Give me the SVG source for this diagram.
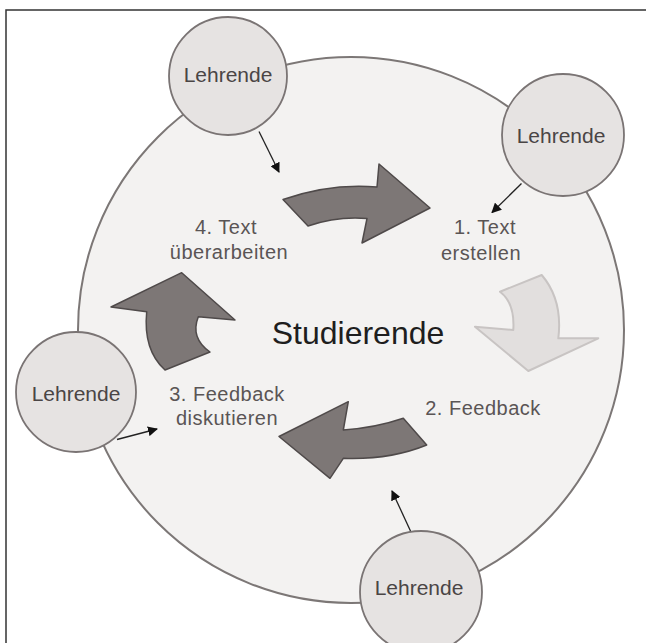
<svg xmlns="http://www.w3.org/2000/svg" width="646" height="643" viewBox="0 0 646 643">
<defs>
<marker id="ah" viewBox="0 0 10 10" refX="9" refY="5" markerWidth="10" markerHeight="10" markerUnits="userSpaceOnUse" orient="auto">
<path d="M0,0 L10,5 L0,10 Z" fill="#111"/>
</marker>
<style>
.frame{stroke:#333;stroke-width:1.5;fill:none}
.big{fill:#f3f2f1;stroke:#7c7776;stroke-width:2}
.dark{fill:#7d7776;stroke:#4f4a4a;stroke-width:1.5;stroke-linejoin:round}
.light{fill:#e2dfde;stroke:#c8c4c3;stroke-width:2;stroke-linejoin:round}
.node{fill:#e6e3e2;stroke:#7a7474;stroke-width:1.8}
.lt{font-family:"Liberation Sans",Arial,sans-serif;font-size:21px;fill:#4a4545;text-anchor:middle}
.st{font-family:"Liberation Sans",Arial,sans-serif;font-size:20px;fill:#5a5555;text-anchor:middle;letter-spacing:0.5px}
.ct{font-family:"Liberation Sans",Arial,sans-serif;font-size:32px;fill:#1e1e1e;text-anchor:middle}
.conn{stroke:#222;stroke-width:1.3;fill:none;marker-end:url(#ah)}
</style>
</defs>
<rect width="646" height="643" fill="#fff"/>
<path class="frame" d="M6,643 L6,10 L646,10"/>
<g id="studierende">
<circle class="big" cx="351" cy="330" r="273"/>
<text class="ct" x="358" y="344">Studierende</text>
</g>
<g id="cycle-arrows">
<path class="dark" d="M283,199.5 Q330,183 377,187 L379,164 L430,208 L362,243 L367,218.5 Q337,216 308,226 Z"/>
<path class="light" d="M500,291.7 L541.7,275 Q563,300 558.3,338.3 L598.3,338.3 L528.3,371 L475,326.7 L513.3,330 Q515,303 500,291.7 Z"/>
<path class="dark" d="M403.3,418.3 L426.7,445 Q390,460 343.3,458.3 L330,478.3 L279,436.5 L348.3,401.7 L343.3,430 Q375,428 403.3,418.3 Z"/>
<path class="dark" d="M165,370 L210,352 Q190,338 198.3,316.7 L235,320 L181.7,272.7 L111,307 L146.7,311.7 Q143,350 165,370 Z"/>
</g>
<g id="step1"><text class="st" x="485" y="234">1. Text</text><text class="st" x="481" y="260">erstellen</text></g>
<g id="step2"><text class="st" x="483" y="415">2. Feedback</text></g>
<g id="step3"><text class="st" x="227" y="401">3. Feedback</text><text class="st" x="227" y="425">diskutieren</text></g>
<g id="step4"><text class="st" x="226" y="234">4. Text</text><text class="st" x="229" y="259">überarbeiten</text></g>
<g id="lehrende-top"><circle class="node" cx="228" cy="76" r="59"/><text class="lt" x="228" y="82">Lehrende</text></g>
<g id="lehrende-right"><circle class="node" cx="563" cy="135" r="61"/><text class="lt" x="561" y="143">Lehrende</text></g>
<g id="lehrende-left"><circle class="node" cx="76" cy="392" r="60"/><text class="lt" x="76" y="401">Lehrende</text></g>
<g id="lehrende-bottom"><circle class="node" cx="421" cy="592" r="61"/><text class="lt" x="419" y="595">Lehrende</text></g>
<g id="connectors">
<line class="conn" x1="259" y1="131.5" x2="279" y2="172"/>
<line class="conn" x1="521.5" y1="183.5" x2="492" y2="212.5"/>
<line class="conn" x1="117" y1="439.5" x2="157" y2="429"/>
<line class="conn" x1="410.5" y1="531" x2="392" y2="491"/>
</g>
</svg>
